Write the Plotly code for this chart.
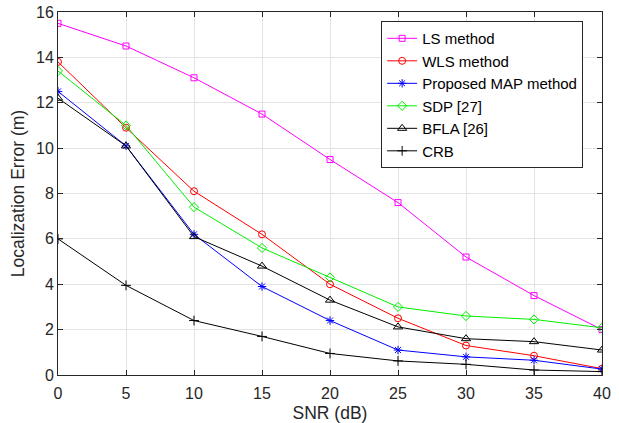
import plotly.graph_objects as go

snr = [0, 5, 10, 15, 20, 25, 30, 35, 40]
ls_err = [15.5, 14.5, 13.1, 11.5, 9.5, 7.6, 5.2, 3.5, 2.0]
wls_err = [13.8, 10.9, 8.1, 6.2, 4.0, 2.5, 1.3, 0.85, 0.28]
map_err = [12.5, 10.1, 6.2, 3.9, 2.4, 1.1, 0.8, 0.65, 0.26]
sdp_err = [13.4, 11.0, 7.4, 5.6, 4.3, 3.0, 2.6, 2.45, 2.08]
bfla_err = [12.2, 10.1, 6.1, 4.8, 3.3, 2.12, 1.6, 1.47, 1.1]
crb_err = [6.0, 3.95, 2.4, 1.7, 0.95, 0.62, 0.47, 0.22, 0.15]

series = [
    ("LS method", ls_err, "#ff00ff", "square-open", 6),
    ("WLS method", wls_err, "#ff0000", "circle-open", 7),
    ("Proposed MAP method", map_err, "#0000ff", "asterisk-open", 7),
    ("SDP [27]", sdp_err, "#00ee00", "diamond-open", 7),
    ("BFLA [26]", bfla_err, "#000000", "triangle-up-open", 8),
    ("CRB", crb_err, "#000000", "cross-thin-open", 7),
]

fig = go.Figure()
for name, vals, col, sym, sz in series:
    fig.add_trace(go.Scatter(
        x=snr, y=vals, name=name, mode="lines+markers",
        line=dict(color=col, width=1),
        marker=dict(symbol=sym, size=sz, color=col, line=dict(color=col, width=1)),
    ))

axis_common = dict(
    showline=True, linecolor="#262626", linewidth=1, mirror="ticks",
    ticks="inside", ticklen=5, tickcolor="#262626",
    showgrid=True, gridcolor="#e3e3e3", gridwidth=1,
    zeroline=False, automargin=False, ticklabeloverflow="allow",
    tickfont=dict(family="Liberation Sans, Arial", size=16, color="#262626"),
)

fig.update_layout(
    width=619, height=423,
    margin=dict(l=58, r=17, t=12, b=48),
    paper_bgcolor="white", plot_bgcolor="white",
    font=dict(family="Liberation Sans, Arial", size=16, color="#262626"),
    hovermode=False,
    xaxis=dict(range=[0, 40], dtick=5, ticklabelstandoff=4,
               title=dict(text="SNR (dB)", font=dict(size=17.5), standoff=9), **axis_common),
    yaxis=dict(range=[0, 16], dtick=2,
               title=dict(text="Localization Error (m)", font=dict(size=17.5), standoff=6), **axis_common),
    legend=dict(x=0.594, y=0.975, xanchor="left", yanchor="top",
                bgcolor="white", bordercolor="#262626", borderwidth=1,
                font=dict(size=15, color="#000000"),
                tracegroupgap=0, itemwidth=30),
    showlegend=True,
)

fig.write_html("out.html", config={"displayModeBar": False},
               post_script="document.body.style.margin='0';")
